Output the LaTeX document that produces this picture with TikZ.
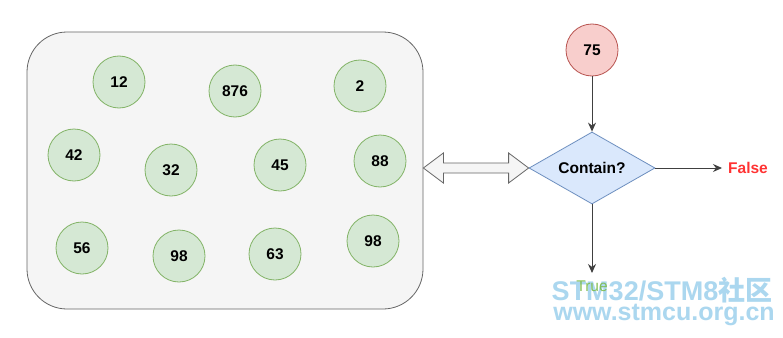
\documentclass[tikz,border=0pt]{standalone}
\usepackage{fontspec}
\setmainfont{Liberation Sans}
\newfontfamily\cjk{Noto Sans CJK SC}
\usetikzlibrary{shapes.geometric,arrows.meta,calc}
\definecolor{gfill}{HTML}{D5E8D4}
\definecolor{gline}{HTML}{82B366}
\definecolor{rfill}{HTML}{F8CECC}
\definecolor{rline}{HTML}{B85450}
\definecolor{bfill}{HTML}{DAE8FC}
\definecolor{bline}{HTML}{6C8EBF}
\definecolor{boxfill}{HTML}{F5F5F5}
\definecolor{boxline}{HTML}{666666}
\definecolor{falsered}{HTML}{FF3333}
\definecolor{truegreen}{HTML}{7DBB4A}
\definecolor{wmark}{RGB}{150,205,235}
\tikzset{
  num/.style={circle, draw=gline, fill=gfill, line width=0.8pt, minimum size=52pt, inner sep=0pt, font=\fontsize{15.5pt}{18pt}\selectfont\bfseries},
  flow/.style={draw=black!75, line width=1pt, -{Stealth[length=9pt,width=8pt]}},
  lbl/.style={font=\fontsize{15.5pt}{18pt}\selectfont, inner sep=0pt},
}
\begin{document}
\begin{tikzpicture}[x=1pt,y=-1pt]
\useasboundingbox (0,0) rectangle (783,337);
\fill[white] (0,0) rectangle (783,337);
% container
\node[draw=boxline, fill=boxfill, line width=0.8pt, rounded corners=40pt, minimum width=396pt, minimum height=277pt, inner sep=0pt] (box) at (225,170.5) {};
% numbers
\node[num] (n12) at (119,82) {12};
\node[num] (n876) at (235,91) {876};
\node[num] (n2) at (360,86) {2};
\node[num] (n42) at (74,155) {42};
\node[num] (n32) at (171,170) {32};
\node[num] (n45) at (280,165) {45};
\node[num] (n88) at (380,161) {88};
\node[num] (n56) at (82,248) {56};
\node[num] (n98a) at (179,256) {98};
\node[num] (n63) at (275,254) {63};
\node[num] (n98b) at (373,241) {98};
% right side
\node[num, draw=rline, fill=rfill] (q) at (592,50) {75};
\node[diamond, draw=bline, fill=bfill, line width=0.8pt, aspect=1.75, minimum width=126pt, minimum height=72pt, inner sep=0pt, font=\fontsize{15.5pt}{18pt}\selectfont\bfseries] (dia) at (592,168) {Contain?};
\node[lbl, font=\fontsize{15.5pt}{18pt}\selectfont\bfseries, text=falsered, anchor=west] (false) at (728,168) {False};
\coordinate (ft) at (722,168);
\coordinate (tt) at (592,273);
\draw[flow] (q) -- (dia.north);
\draw[flow] (dia.east) -- (ft);
\draw[flow] (dia.south) -- (tt);
% double arrow
\coordinate (L) at (box.east |- dia.west);
\coordinate (R) at (dia.west);
\draw[draw=boxline, fill=boxfill, line width=0.8pt, line join=miter]
  (L) -- ($(L)+(20,-15)$) -- ($(L)+(20,-5)$) -- ($(R)+(-20,-5)$) -- ($(R)+(-20,-15)$)
  -- (R) -- ($(R)+(-20,15)$) -- ($(R)+(-20,5)$) -- ($(L)+(20,5)$) -- ($(L)+(20,15)$) -- cycle;
% watermark
\node[text=wmark, opacity=0.8, inner sep=0pt, font=\fontsize{27pt}{30pt}\selectfont\bfseries] (wm1) at (662,290) {STM32/STM8{\cjk 社区}};
\node[text=wmark, opacity=0.8, inner sep=0pt, font=\fontsize{25pt}{28pt}\selectfont\bfseries] (wm2) at (664,315) {www.stmcu.org.cn};
\node[lbl, text=truegreen, opacity=0.9] (true) at (592,286) {True};
\end{tikzpicture}
\end{document}
